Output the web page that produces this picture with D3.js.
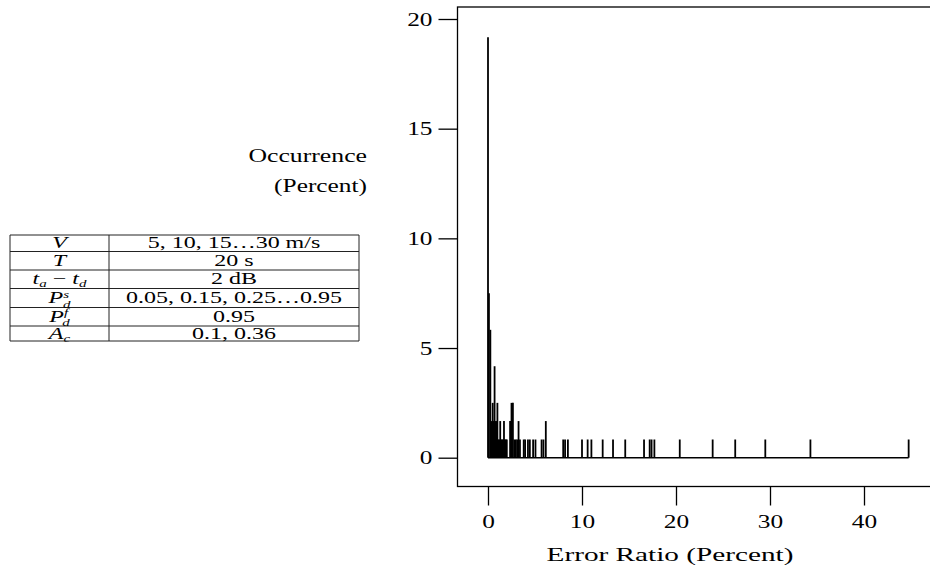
<!DOCTYPE html>
<html>
<head>
<meta charset="utf-8">
<script src="https://cdn.jsdelivr.net/npm/d3@7"></script>
<style>
  body { margin: 0; background: #fff; }
  text { font-family: 'Liberation Serif', 'Times New Roman', serif; fill: #000; }
</style>
</head>
<body>
<script>
// error ratio (percent) of each distinct value and its occurrence (percent of 120 runs)
var errorRatio = [0.0, 0.1, 0.25, 0.4, 0.5, 0.6, 0.7, 0.8, 0.9, 1.0, 1.1, 1.2, 1.3, 1.4, 1.5, 1.6, 1.7, 1.8, 1.9, 2.0,
  2.35, 2.5, 2.65, 2.8, 2.95, 3.1, 3.25, 3.4, 3.8, 3.95, 4.25, 4.45, 4.8, 5.05, 5.7, 5.9, 6.15,
  8.0, 8.2, 8.5, 10.0, 10.6, 11.0, 12.2, 13.3, 14.6, 16.6, 17.2, 17.4, 17.7, 20.4, 23.9, 26.3, 29.5, 34.3, 44.75];
var occurrence = [19.17, 7.5, 5.83, 1.67, 2.5, 1.67, 4.17, 1.67, 1.67, 2.5, 0.83, 0.83, 1.67, 0.83, 0.83, 0.83, 1.67, 0.83, 0.83, 0.83,
  1.67, 2.5, 2.5, 0.83, 0.83, 0.83, 1.67, 0.83, 0.83, 0.83, 0.83, 0.83, 0.83, 0.83, 0.83, 0.83, 1.67,
  0.83, 0.83, 0.83, 0.83, 0.83, 0.83, 0.83, 0.83, 0.83, 0.83, 0.83, 0.83, 0.83, 0.83, 0.83, 0.83, 0.83, 0.83, 0.83];
var xTicks = [0, 10, 20, 30, 40];
var yTicks = [0, 5, 10, 15, 20];

// parameter table: '_' subscript, '^' superscript
var paramNames = ['V', 'T', 't_a − t_d', 'P_d^s', 'P_d^f', 'A_c'];
var paramValues = ['5, 10, 15…30 m/s', '20 s', '2 dB', '0.05, 0.15, 0.25…0.95', '0.95', '0.1, 0.36'];

var width = 930, height = 573;
var svg = d3.select('body').append('svg').attr('width', width).attr('height', height);

// the reference is stretched horizontally, so text gets a wider x scale
var digitStretch = 1.3;

function label(x0, y0, str, size, anchor, sx) {
  return svg.append('text')
    .attr('transform', `translate(${x0},${y0}) scale(${sx},1)`)
    .attr('text-anchor', anchor).attr('font-size', size).text(str);
}

var box = { left: 457.5, top: 7, right: 931, bottom: 486.5 };
var x = d3.scaleLinear().domain([0, 40]).range([488, 864]);
var y = d3.scaleLinear().domain([0, 20]).range([457.7, 19]);

svg.append('rect')
  .attr('x', box.left).attr('y', box.top)
  .attr('width', box.right - box.left).attr('height', box.bottom - box.top)
  .attr('fill', 'none').attr('stroke', '#000').attr('stroke-width', 1.3);

var yAxis = svg.append('g')
  .attr('transform', `translate(${box.left},0)`)
  .call(d3.axisLeft(y).tickValues(yTicks).tickSize(19).tickPadding(6));
var xAxis = svg.append('g')
  .attr('transform', `translate(0,${box.bottom})`)
  .call(d3.axisBottom(x).tickValues(xTicks).tickSize(19).tickPadding(9));

[yAxis, xAxis].forEach(function (ax) {
  ax.select('.domain').remove();
  ax.selectAll('line').attr('stroke', '#000').attr('stroke-width', 1.3);
  ax.selectAll('text').attr('font-size', 19.5).each(function () {
    var t = d3.select(this);
    var tx = +t.attr('x') || 0, ty = +t.attr('y') || 0;
    t.attr('x', 0).attr('y', 0).attr('transform', `translate(${tx},${ty}) scale(${digitStretch},1)`);
  });
});

// spikes
var data = errorRatio.map(function (e, i) { return { e: e, v: occurrence[i] }; });
svg.append('line')
  .attr('x1', x(d3.min(errorRatio))).attr('x2', x(d3.max(errorRatio)))
  .attr('y1', y(0)).attr('y2', y(0))
  .attr('stroke', '#000').attr('stroke-width', 1.6);
svg.append('g').selectAll('line').data(data).enter().append('line')
  .attr('x1', function (d) { return x(d.e); })
  .attr('x2', function (d) { return x(d.e); })
  .attr('y1', y(0))
  .attr('y2', function (d) { return y(d.v); })
  .attr('stroke', '#000').attr('stroke-width', 1.8);

label(670, 561, 'Error Ratio (Percent)', 19.5, 'middle', 1.5);
label(367, 162, 'Occurrence', 19.5, 'end', 1.32);
label(367, 192, '(Percent)', 19.5, 'end', 1.3);

// table
var tbl = { left: 10, mid: 109, right: 359 };
var rowEdges = [235, 251.5, 270, 288.5, 307.5, 326, 341];
var tg = svg.append('g');
rowEdges.forEach(function (r) {
  tg.append('line').attr('x1', tbl.left).attr('x2', tbl.right).attr('y1', r).attr('y2', r)
    .attr('stroke', '#222').attr('stroke-width', 1);
});
[tbl.left, tbl.mid, tbl.right].forEach(function (c) {
  tg.append('line').attr('x1', c).attr('x2', c).attr('y1', rowEdges[0]).attr('y2', rowEdges[rowEdges.length - 1])
    .attr('stroke', '#222').attr('stroke-width', 1);
});

var fs = 16, ss = 10, tsx = 1.5;
paramNames.forEach(function (name, i) {
  var cy = (rowEdges[i] + rowEdges[i + 1]) / 2 + 5;
  var t = tg.append('text').attr('text-anchor', 'middle').attr('font-size', fs)
    .attr('transform', `translate(${(tbl.left + tbl.mid) / 2},${cy}) scale(${tsx},1)`);
  var m = name.match(/^(\S)(?:_(\S))?(?:\^(\S))?(.*)$/);
  t.append('tspan').attr('font-style', 'italic').text(m[1]);
  if (m[3]) {
    t.append('tspan').attr('font-style', 'italic').attr('font-size', ss).attr('dy', -5.5).text(m[3]);
    t.append('tspan').attr('font-style', 'italic').attr('font-size', ss).attr('dx', -4).attr('dy', 10).text(m[2]);
  } else if (m[2]) {
    t.append('tspan').attr('font-style', 'italic').attr('font-size', ss).attr('dy', 3).text(m[2]);
  }
  if (m[4]) {
    var rest = m[4].match(/^ − (\S)_(\S)$/);
    t.append('tspan').attr('dy', -3).text(' − ');
    t.append('tspan').attr('font-style', 'italic').text(rest[1]);
    t.append('tspan').attr('font-style', 'italic').attr('font-size', ss).attr('dy', 3).text(rest[2]);
  }
  tg.append('text').attr('text-anchor', 'middle').attr('font-size', fs)
    .attr('transform', `translate(${(tbl.mid + tbl.right) / 2},${cy}) scale(${tsx},1)`)
    .text(paramValues[i]);
});
</script>
</body>
</html>
